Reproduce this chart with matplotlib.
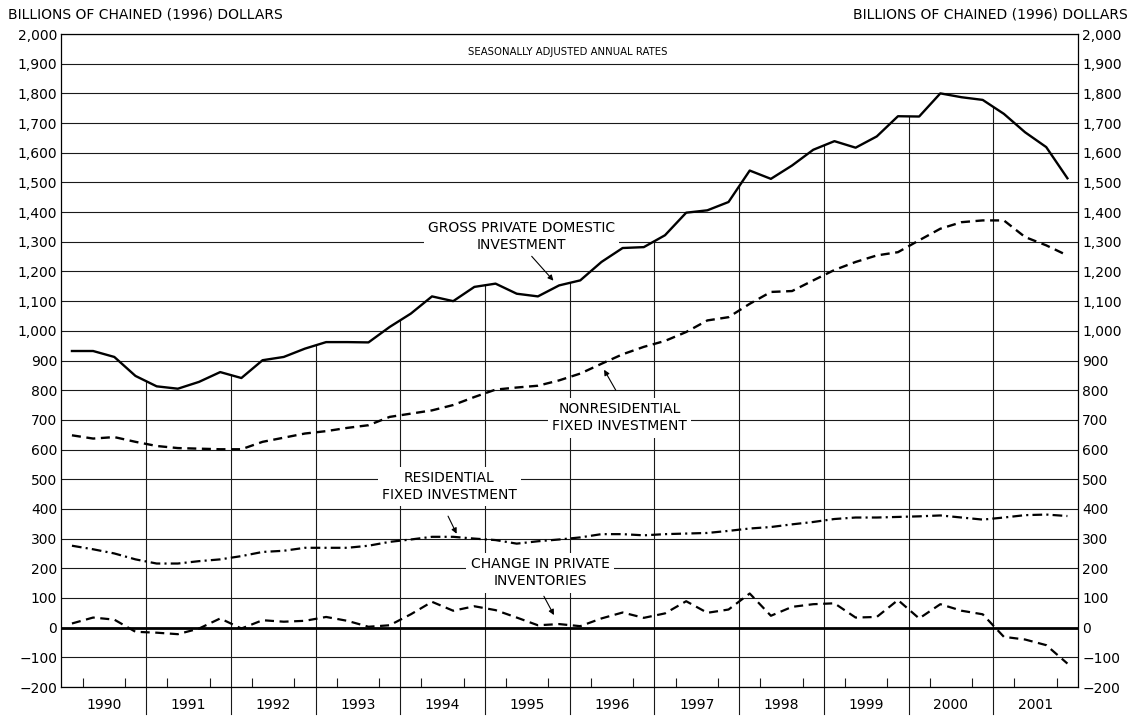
import numpy as np
import matplotlib
matplotlib.use("Agg")
import matplotlib.pyplot as plt
from matplotlib.ticker import FuncFormatter, MultipleLocator

plt.rcParams["font.family"] = ["DejaVu Sans"]
plt.rcParams["lines.scale_dashes"] = False

# quarterly data, 1990Q1 - 2001Q4 (billions of chained 1996 dollars)
years = list(range(1990, 2002))
quarters = [1, 2, 3, 4]

gpdi = [932, 932, 912, 848, 813, 805, 828, 861, 841, 901, 912, 940,
        962, 962, 961, 1013, 1058, 1116, 1100, 1148, 1159, 1125, 1116, 1153,
        1170, 1232, 1279, 1282, 1322, 1398, 1406, 1434, 1540, 1512, 1557, 1610,
        1639, 1617, 1655, 1723, 1722, 1800, 1787, 1778, 1731, 1669, 1619, 1514]
nonres = [648, 637, 642, 626, 612, 605, 603, 601, 601, 626, 640, 654,
          662, 673, 682, 710, 721, 732, 750, 777, 802, 809, 815, 833,
          856, 889, 921, 946, 966, 996, 1035, 1046, 1091, 1131, 1134, 1170,
          1205, 1232, 1254, 1265, 1305, 1344, 1366, 1372, 1372, 1316, 1288, 1254]
resid = [276, 264, 250, 230, 216, 216, 224, 230, 241, 255, 259, 269,
         269, 269, 276, 289, 297, 306, 306, 300, 295, 283, 291, 297,
         304, 315, 315, 311, 315, 317, 319, 326, 334, 339, 348, 356,
         366, 371, 371, 373, 375, 378, 371, 364, 371, 379, 381, 376]
inventories = [14, 34, 27, -14, -17, -22, -3, 31, -3, 25, 20, 23,
               36, 23, 3, 8, 45, 87, 57, 72, 59, 34, 8, 12,
               5, 31, 51, 33, 48, 89, 50, 61, 115, 40, 70, 79,
               82, 34, 36, 93, 31, 79, 57, 45, -31, -40, -59, -121]

x = np.array([y + (q - 0.5) / 4 for y in years for q in quarters])

fig = plt.figure(figsize=(11.32, 7.19), dpi=100)
ax = fig.add_axes([0.0542, 0.0445, 0.8981, 0.9082])

ax.set_xlim(1990, 2002)
ax.set_ylim(-200, 2000)

# horizontal grid
for v in range(-200, 2001, 100):
    if v == 0:
        continue
    ax.axhline(v, color="#1a1a1a", lw=0.8, zorder=1)
ax.axhline(0, color="black", lw=2.0, zorder=2)

# year separators: from below the axis up to the GPDI line
for yb in years[1:]:
    top = np.interp(yb, x, gpdi)
    ax.plot([yb, yb], [-292, top], color="#1a1a1a", lw=0.8, zorder=1,
            clip_on=False)

ax.plot(x, gpdi, color="black", lw=1.7, zorder=4)
ax.plot(x, nonres, color="black", lw=1.7, dashes=(6.5, 4), zorder=4)
ax.plot(x, resid, color="black", lw=1.6, dashes=(7, 3, 1.5, 3), zorder=4)
ax.plot(x, inventories, color="black", lw=1.6, dashes=(6.5, 4), zorder=4)

# axes / ticks
for s in ["left", "right", "bottom", "top"]:
    ax.spines[s].set_linewidth(0.9)
ax.yaxis.set_major_locator(MultipleLocator(100))
ax.yaxis.set_major_formatter(FuncFormatter(
    lambda v, p: f"{int(v):,}".replace("-", "\u2212")))
ax.tick_params(axis="y", length=0, labelsize=10, pad=3, left=True, right=True,
               labelleft=True, labelright=True)

ax.set_xticks([y + 0.5 for y in years])
ax.set_xticklabels([str(y) for y in years])
ax.tick_params(axis="x", which="major", length=0, labelsize=10, pad=8)
qticks = [y + q / 4 for y in years for q in (1, 2, 3)]
ax.set_xticks(qticks, minor=True)
ax.tick_params(axis="x", which="minor", direction="in", length=6.5,
               width=0.8, color="#1a1a1a")

# labels
box = dict(fc="white", ec="none", pad=3)
arrow = dict(arrowstyle="-|>", lw=0.8, color="black", mutation_scale=8)
ax.text(1995.98, 1938, "SEASONALLY ADJUSTED ANNUAL RATES", fontsize=7.3,
        ha="center", va="center", zorder=3)
ax.text(1995.43, 1318, "GROSS PRIVATE DOMESTIC\nINVESTMENT", fontsize=10,
        ha="center", va="center", linespacing=1.3, bbox=box, zorder=3)
ax.annotate("", xy=(1995.83, 1162), xytext=(1995.53, 1258),
            arrowprops=arrow, zorder=5)
ax.text(1996.59, 707, "NONRESIDENTIAL\nFIXED INVESTMENT", fontsize=10,
        ha="center", va="center", linespacing=1.3, bbox=box, zorder=3)
ax.annotate("", xy=(1996.39, 877), xytext=(1996.56, 792),
            arrowprops=arrow, zorder=5)
ax.text(1994.58, 476, "RESIDENTIAL\nFIXED INVESTMENT", fontsize=10,
        ha="center", va="center", linespacing=1.3, bbox=box, zorder=3)
ax.annotate("", xy=(1994.68, 308), xytext=(1994.55, 384),
            arrowprops=arrow, zorder=5)
ax.text(1995.65, 185, "CHANGE IN PRIVATE\nINVENTORIES", fontsize=10,
        ha="center", va="center", linespacing=1.3, bbox=box, zorder=3)
ax.annotate("", xy=(1995.83, 34), xytext=(1995.68, 114),
            arrowprops=arrow, zorder=5)

fig.text(8 / 1132, 1 - 14 / 719, "BILLIONS OF CHAINED (1996) DOLLARS",
         fontsize=10, ha="left", va="center")
fig.text(1128 / 1132, 1 - 14 / 719, "BILLIONS OF CHAINED (1996) DOLLARS",
         fontsize=10, ha="right", va="center")

fig.savefig("out.png", dpi=100, facecolor="white")
